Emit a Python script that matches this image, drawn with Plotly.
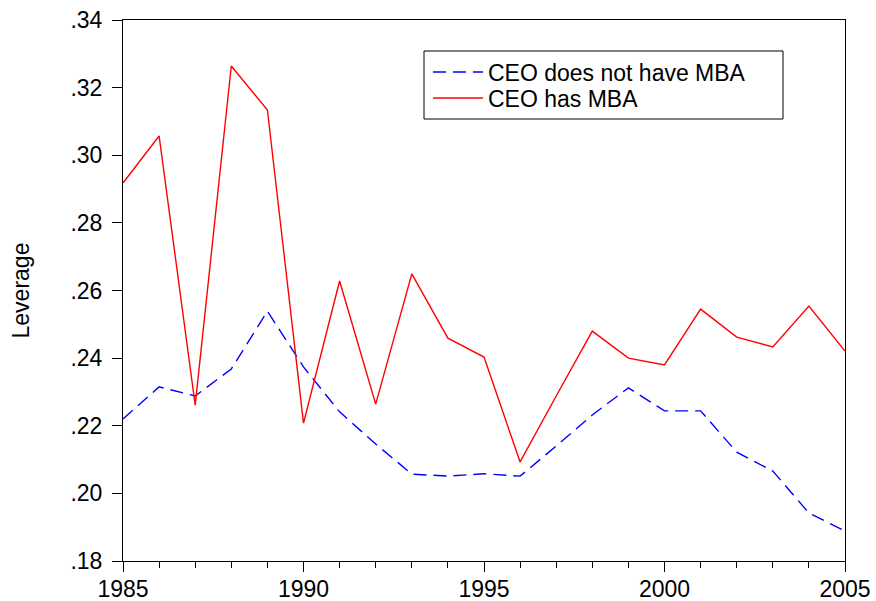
import plotly.graph_objects as go

years = list(range(1985, 2006))
no_mba = [0.2220, 0.2315, 0.2288, 0.2368, 0.2539, 0.2374, 0.2241, 0.2146, 0.2057, 0.2051,
          0.2058, 0.2051, 0.2140, 0.2232, 0.2312, 0.2244, 0.2244, 0.2122, 0.2066, 0.1942, 0.1889]
has_mba = [0.2918, 0.3057, 0.2261, 0.3264, 0.3134, 0.2208, 0.2628, 0.2264, 0.2649, 0.2459,
           0.2403, 0.2093, 0.2288, 0.2480, 0.2400, 0.2380, 0.2545, 0.2462, 0.2433, 0.2554, 0.2421]
ytick_vals = [0.18, 0.20, 0.22, 0.24, 0.26, 0.28, 0.30, 0.32, 0.34]
ytick_text = [".18", ".20", ".22", ".24", ".26", ".28", ".30", ".32", ".34"]
xtick_vals = [1985, 1990, 1995, 2000, 2005]

fig = go.Figure()
fig.add_trace(go.Scatter(x=years, y=no_mba, mode="lines", name="CEO does not have MBA",
                         legend="legend",
                         line=dict(color="#0000ff", width=1.4, dash="13px,7px")))
fig.add_trace(go.Scatter(x=years, y=has_mba, mode="lines", name="CEO has MBA",
                         legend="legend2",
                         line=dict(color="#ff0000", width=1.4)))

W, H = 876, 601
ML, MR, MT, MB = 123, 31, 20, 40
pw = W - ML - MR
ph = H - MT - MB


def px_x(p):
    return (p - ML) / pw


def px_y(p):
    return 1 - (p - MT) / ph


font = "Liberation Sans, Arial, sans-serif"
leg_common = dict(xanchor="left", yanchor="middle", borderwidth=0, bgcolor="rgba(0,0,0,0)",
                  font=dict(size=23), itemwidth=50)
fig.update_layout(
    width=W, height=H,
    margin=dict(l=ML, r=MR, t=MT, b=MB, autoexpand=False),
    paper_bgcolor="white", plot_bgcolor="white",
    font=dict(family=font, size=23, color="black"),
    showlegend=True,
    legend=dict(x=px_x(428), y=px_y(72), **leg_common),
    legend2=dict(x=px_x(428), y=px_y(98), **leg_common),
    shapes=[dict(type="rect", xref="paper", yref="paper",
                 x0=px_x(424), x1=px_x(783), y0=px_y(119), y1=px_y(51),
                 line=dict(color="black", width=1), fillcolor="rgba(0,0,0,0)")],
    xaxis=dict(range=[1985, 2005], tickmode="array", tickvals=xtick_vals,
               ticks="outside", ticklen=10, tickcolor="black", tickwidth=1,
               minor=dict(dtick=1, tick0=1985, ticks="outside", ticklen=6, tickcolor="black", showgrid=False),
               showline=True, linecolor="black", linewidth=1, mirror=True,
               showgrid=False, zeroline=False, tickfont=dict(size=23), ticklabelstandoff=-3,
               ticklabeloverflow="allow", automargin=False),
    yaxis=dict(range=[0.18, 0.34], tickmode="array", tickvals=ytick_vals, ticktext=ytick_text,
               ticks="outside", ticklen=10, tickcolor="black", tickwidth=1,
               showline=True, linecolor="black", linewidth=1, mirror=True,
               showgrid=False, zeroline=False, tickfont=dict(size=23), ticklabelstandoff=5,
               ticklabeloverflow="allow", automargin=False,
               title=dict(text="Leverage", font=dict(size=23), standoff=34)),
)
fig.write_html("out.html", config={"displayModeBar": False},
               post_script="document.body.style.margin='0px';")
